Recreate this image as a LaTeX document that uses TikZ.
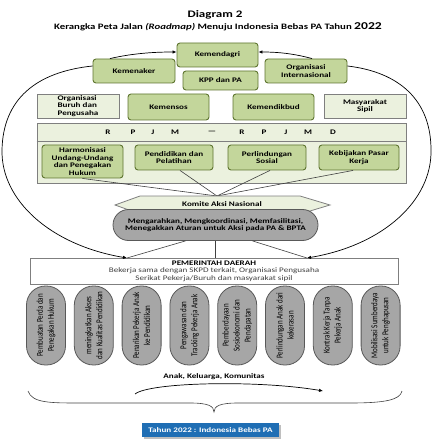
\documentclass[tikz,border=0pt]{standalone}
\usepackage{fontspec}
\setmainfont{Carlito}[FakeStretch=1.3]
\newfontfamily\pillfont{Carlito}[FakeStretch=0.78]
\usetikzlibrary{arrows.meta,positioning,calc,shadows}
\definecolor{olivefill}{HTML}{C3D69B}
\definecolor{olivedraw}{HTML}{5F7530}
\definecolor{palefill}{HTML}{EBF1DE}
\definecolor{boxgrey}{HTML}{7F7F7F}
\definecolor{pillgrey}{HTML}{A6A6A6}
\definecolor{pilldraw}{HTML}{595959}
\definecolor{linegrey}{HTML}{404040}
\definecolor{bluebox}{HTML}{1F6EB4}
\newcommand{\boxfont}{\bfseries\fontsize{7}{7.6}\selectfont}

\begin{document}
\begin{tikzpicture}[
  x=1pt, y=-1pt,
  greenbox/.style={rectangle, rounded corners=3pt, draw=olivedraw, fill=olivefill,
                   line width=0.9pt, align=center, font=\boxfont, inner sep=1pt},
  palebox/.style={rectangle, draw=boxgrey, fill=palefill, line width=0.8pt,
                  align=center, font=\boxfont, inner sep=1pt},
  pill/.style={rectangle, rounded corners=19pt, draw=pilldraw, fill=pillgrey,
               line width=0.8pt, minimum width=79pt, minimum height=39pt, rotate=90,
               align=center, font=\pillfont\fontsize{9}{11}\selectfont, inner sep=1pt},
  link/.style={draw=linegrey, line width=0.6pt},
  arr/.style={-{Latex[length=4pt,width=3.5pt]}, draw=black, line width=0.7pt}
]
  \useasboundingbox (0,0) rectangle (433,446);

  % judul
  \node[font=\bfseries\fontsize{10}{12}\selectfont] (judul) at (215,15) {Diagram 2};
  \node[font=\bfseries\fontsize{8.3}{10}\selectfont] (subjudul) at (218,27)
    {Kerangka Peta Jalan \textit{(Roadmap)} Menuju Indonesia Bebas PA Tahun {\fontsize{10.5}{10}\selectfont 2022}};

  % lembaga pusat
  \node[greenbox, minimum width=81pt, minimum height=24pt] (kemendagri) at (217.5,55) {Kemendagri};
  \node[greenbox, minimum width=82pt, minimum height=24pt] (kemenaker) at (134,71) {Kemenaker};
  \node[greenbox, minimum width=75pt, minimum height=19pt] (kpp) at (220.5,80.5) {KPP dan PA};
  \node[greenbox, minimum width=82pt, minimum height=24pt] (orgint) at (306,71) {Organisasi\\Internasional};

  \node[palebox, minimum width=82pt, minimum height=24pt, align=left] (orgburuh) at (78,106) {Organisasi\\Buruh dan\\Pengusaha};
  \node[greenbox, minimum width=81pt, minimum height=26pt] (kemensos) at (168.5,107) {Kemensos};
  \node[greenbox, minimum width=81pt, minimum height=26pt] (kemendikbud) at (273.5,107) {Kemendikbud};
  \node[palebox, minimum width=82pt, minimum height=24pt] (masyarakat) at (365,106) {Masyarakat\\Sipil};

  % RPJM - RPJMD
  \node[palebox, minimum width=369pt, minimum height=60pt] (rpjm) at (221.5,153) {};
  \draw[boxgrey, line width=0.8pt] ($(rpjm.north west)+(0,19)$) -- ($(rpjm.north east)+(0,19)$);
  \foreach \x/\l in {108/R,133/P,153/J,175/M,212/{---},242/R,264/P,286/J,308/M,333/D}
    \node[font=\boxfont] (rp\x) at (\x,132) {\l};

  \node[greenbox, minimum width=81pt, minimum height=33pt] (harmon) at (82.5,161.5) {Harmonisasi\\Undang-Undang\\dan Penegakan\\Hukum};
  \node[greenbox, minimum width=78pt, minimum height=25pt] (pendidikan) at (174,157.5) {Pendidikan dan\\Pelatihan};
  \node[greenbox, minimum width=78pt, minimum height=25pt] (perlindungan) at (267,157.5) {Perlindungan\\Sosial};
  \node[greenbox, minimum width=80pt, minimum height=25pt] (kebijakan) at (359,157.5) {Kebijakan Pasar\\Kerja};

  % komite
  \coordinate (apex) at (217,196);
  \draw[link] (harmon.south) -- (apex);
  \draw[link] ($(pendidikan.south)+(6,0)$) -- (apex);
  \draw[link] ($(perlindungan.south)+(3,0)$) -- (apex);
  \draw[link] ($(kebijakan.south)+(-6,0)$) -- (apex);
  \draw[boxgrey, fill=palefill, line width=0.8pt]
    (115,205) -- (140,196) -- (300,196) -- (330,205) -- (300,214) -- (140,214) -- cycle;
  \node[font=\boxfont] (komite) at (222,204) {Komite Aksi Nasional};
  \node[rectangle, rounded corners=15.5pt, draw=pilldraw, fill=pillgrey, line width=0.8pt,
        minimum width=205pt, minimum height=31pt, align=center, font=\boxfont, inner sep=1pt]
    (aturan) at (215.5,225) {Mengarahkan, Mengkoordinasi, Memfasilitasi,\\Menegakkan Aturan untuk Aksi pada PA \& BPTA};

  % pemerintah daerah
  \node[rectangle, draw=boxgrey, fill=white, line width=0.8pt, minimum width=368pt,
        minimum height=26pt, align=center, inner sep=1pt,
        font=\fontsize{7}{7.6}\selectfont, text=linegrey] (pemda) at (214,271)
    {\textbf{\color{black}PEMERINTAH DAERAH}\\Bekerja sama dengan SKPD terkait, Organisasi Pengusaha\\Serikat Pekerja/Buruh dan masyarakat sipil};
  \coordinate (arrL) at (127,258);
  \coordinate (arrR) at (307,258);
  \draw[link] (aturan.south) -- (aturan.south |- pemda.north);
  \draw[link] ($(aturan.south)+(-30,0)$) -- (arrL);
  \draw[link] ($(aturan.south)+(37,0)$) -- (arrR);

  % lingkaran besar
  \draw[arr] ($(kemenaker.west)+(0,-5)$) .. controls (35,72) and (3,100) .. (2,150)
             .. controls (1,200) and (50,245) .. (arrL);
  \draw[arr] ($(orgint.east)+(0,-5)$) .. controls (399,72) and (431,100) .. (431,150)
             .. controls (432,200) and (384,245) .. (arrR);
  \draw[arr] ($(kemenaker.north)+(-24,0)$) .. controls (130,54) and (150,52) .. ($(kemendagri.west)+(0,-3)$);
  \draw[arr] ($(orgint.north)+(6,0)$) .. controls (295,54) and (280,52) .. ($(kemendagri.east)+(0,-3)$);

  % aksi daerah
  \foreach \i/\txt in {0/{Pembuatan Perda dan\\Penegakan Hukum},
                       1/{meningkatkan Akses\\dan Kualitas Pendidikan},
                       2/{Penarikan Pekerja Anak\\ke Pendidikan},
                       3/{Pengawasan dan\\Tracking Pekerja Anak},
                       4/{Pemberdayaan\\Sosioekonomi dan\\Pendapatan},
                       5/{Perlindungan Anak dari\\kekerasan},
                       6/{Kontrak Kerja Tanpa\\Pekerja Anak},
                       7/{Mobilisasi Sumberdaya\\untuk Penghapusan}}
    \node[pill] (act\i) at ({46+47.8*\i},325.5) {\txt};

  % sasaran
  \node[font=\boxfont] (sasaran) at (214,377) {Anak, Keluarga, Komunitas};
  \coordinate (flowA) at (135,394);
  \coordinate (flowB) at (323,391);
  \draw[arr] (flowA) .. controls (150,382) and (260,380) .. (flowB);
  \draw[link] (28,391) .. controls (32,403) and (50,403) .. (80,403) -- (190,403)
              .. controls (208,403) and (214,406) .. (214,412)
              .. controls (214,406) and (220,403) .. (238,403) -- (350,403)
              .. controls (385,403) and (400,400) .. (402,391);
  \node[rectangle, fill=bluebox, text=white, font=\boxfont, minimum width=137pt,
        minimum height=14pt, inner sep=1pt,
        drop shadow={shadow xshift=1.5pt, shadow yshift=-1.5pt, fill=gray, opacity=0.5}]
    (tahun) at (210.5,430) {Tahun 2022 : Indonesia Bebas PA};
\end{tikzpicture}
\end{document}
